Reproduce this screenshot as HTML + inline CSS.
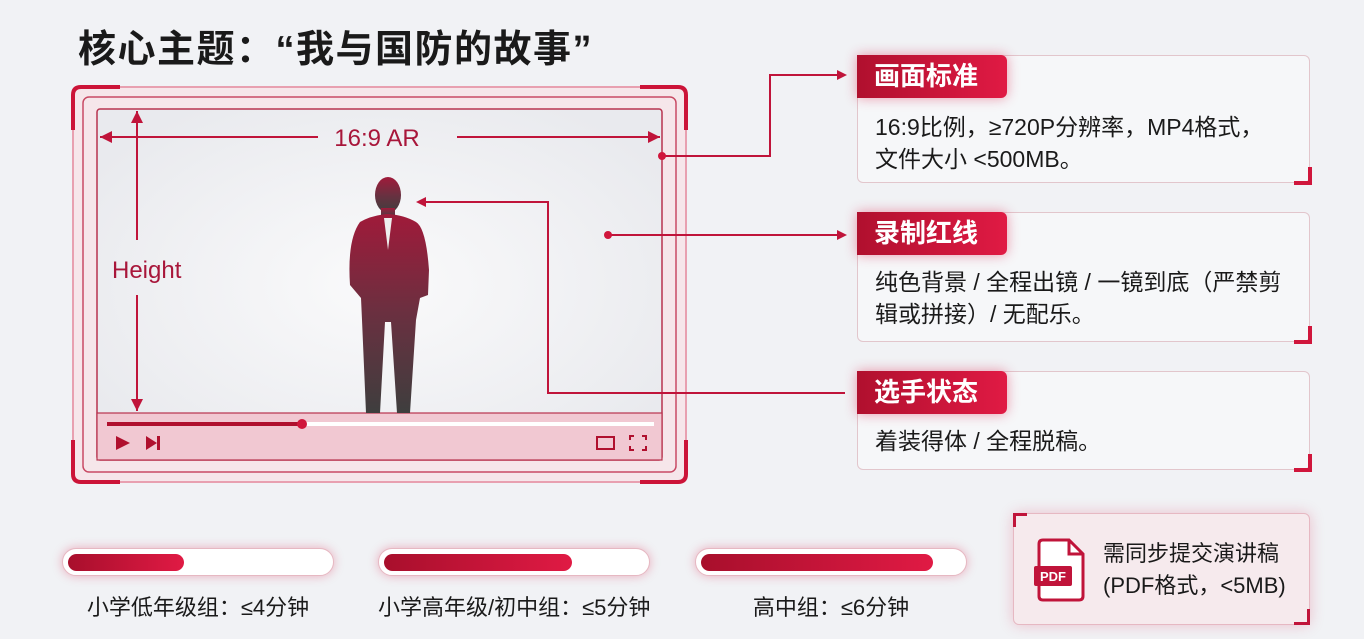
<!DOCTYPE html>
<html><head><meta charset="utf-8"><style>
*{margin:0;padding:0;box-sizing:border-box}
body{width:1364px;height:639px;background:#f1f2f5;position:relative;overflow:hidden;font-family:"Liberation Sans","Noto Sans CJK SC",sans-serif;color:#1a1a1a}
.a{position:absolute}
.lbl{position:absolute;left:857px;width:150px;height:43px;background:linear-gradient(90deg,#b0102e,#e01a44);color:#fff;font-size:26px;font-weight:bold;line-height:43px;padding-left:17px;border-radius:0 6px 6px 0;box-shadow:0 0 12px rgba(220,30,70,.45);white-space:nowrap}
.card{position:absolute;left:857px;width:453px;border:1px solid #e2c6cc;border-radius:6px;background:rgba(250,250,252,.6)}
.ct{position:absolute;left:875px;font-size:23px;line-height:32px;white-space:nowrap}
.corner{position:absolute;width:18px;height:18px;border-right:4px solid #d0163c;border-bottom:4px solid #d0163c}
.pill{position:absolute;top:548px;height:28px;width:272px;border-radius:14px;background:#fff;border:1px solid #e6b8c2;box-shadow:0 0 10px rgba(220,40,80,.35)}
.pill i{position:absolute;left:5px;top:5px;height:17px;border-radius:9px;background:linear-gradient(90deg,#a80f2c,#e01a44)}
.pt{position:absolute;top:590px;font-size:22px;text-align:center;white-space:nowrap}
</style></head><body>
<div class="a" style="left:78px;top:18px;font-size:38px;letter-spacing:1.5px;font-weight:bold;white-space:nowrap">核心主题：“我与国防的故事”</div>

<svg class="a" style="left:0;top:0" width="1364" height="639">
<defs><linearGradient id="sg" x1="0" y1="0" x2="0" y2="1"><stop offset="0" stop-color="#a01a3a"/><stop offset="0.5" stop-color="#6a3040"/><stop offset="1" stop-color="#3e3e3e"/></linearGradient>
<radialGradient id="bg" cx="0.5" cy="0.5" r="0.6"><stop offset="0" stop-color="#fafafb"/><stop offset="1" stop-color="#e9eaee"/></radialGradient>
<marker id="ar" markerWidth="10" markerHeight="10" refX="8" refY="5" orient="auto" markerUnits="userSpaceOnUse"><path d="M0,0 L10,5 L0,10z" fill="#c0143a"/></marker></defs>
<rect x="73" y="87" width="613" height="395" rx="10" fill="#f6e6ea" stroke="#e8a0b0" stroke-width="2"/>
<rect x="83" y="97" width="593" height="375" rx="6" fill="none" stroke="#c84a64" stroke-width="1.5"/>
<rect x="97" y="109" width="565" height="351" rx="3" fill="url(#bg)" stroke="#b8324e" stroke-width="1.5"/>
<rect x="97" y="413" width="565" height="47" fill="#f1c8d2" stroke="#b8324e" stroke-width="1.2"/>
<g stroke="#cc1438" stroke-width="4" fill="none">
<path d="M73,130 V95 Q73,87 81,87 H120"/><path d="M640,87 H678 Q686,87 686,95 V130"/>
<path d="M73,440 V474 Q73,482 81,482 H120"/><path d="M640,482 H678 Q686,482 686,474 V440"/></g>
<line x1="107" y1="424" x2="654" y2="424" stroke="#fff" stroke-width="4"/>
<line x1="107" y1="424" x2="302" y2="424" stroke="#b0102e" stroke-width="4"/>
<circle cx="302" cy="424" r="5" fill="#d0163c"/>
<path d="M116,436 L130,443 L116,450z" fill="#b0102e"/><path d="M146,436 L157,443 L146,450z M157,436 h3 v14 h-3z" fill="#b0102e"/>
<rect x="597" y="437" width="17" height="12" fill="none" stroke="#b0102e" stroke-width="2"/>
<path d="M630,440 v-4 h4 M642,436 h4 v4 M646,446 v4 h-4 M634,450 h-4 v-4" stroke="#b0102e" stroke-width="2" fill="none"/>
<line x1="100" y1="137" x2="318" y2="137" stroke="#c0143a" stroke-width="2"/>
<path d="M100,137 l12,-6 v12z M660,137 l-12,-6 v12z" fill="#c0143a"/>
<line x1="457" y1="137" x2="660" y2="137" stroke="#c0143a" stroke-width="2"/>
<line x1="137" y1="111" x2="137" y2="240" stroke="#c0143a" stroke-width="2"/>
<line x1="137" y1="295" x2="137" y2="411" stroke="#c0143a" stroke-width="2"/>
<path d="M137,111 l-6,12 h12z M137,411 l-6,-12 h12z" fill="#c0143a"/>
<text x="377" y="146" font-size="24" fill="#a8163a" text-anchor="middle" font-family="Liberation Sans">16:9 AR</text>
<text x="112" y="278" font-size="24" fill="#a8163a" font-family="Liberation Sans">Height</text>
<g fill="url(#sg)">
<ellipse cx="388" cy="195" rx="13" ry="18"/>
<path d="M381,208 h14 v10 h-14z"/>
<path d="M360,222 Q372,215 388,214 Q404,215 416,222 Q426,228 429,270 L428,295 L420,298 L416,320 L410,413 H397 L391,322 L385,322 L380,413 H366 L362,320 L361,298 L350,285 Q347,240 360,222z"/>
</g>
<path d="M384,218 L388,250 L392,218z" fill="#eee"/>
<g stroke="#c0143a" stroke-width="2" fill="none">
<polyline points="662,156 770,156 770,75 845,75" marker-end="url(#ar)"/>
<polyline points="608,235 845,235" marker-end="url(#ar)"/>
<polyline points="845,393 548,393 548,202 418,202" marker-end="url(#ar)"/>
</g>
<circle cx="662" cy="156" r="4" fill="#d0163c"/><circle cx="608" cy="235" r="4" fill="#d0163c"/>
</svg>

<div class="card" style="top:55px;height:128px"></div><div class="corner" style="left:1294px;top:167px"></div>
<div class="lbl" style="top:55px">画面标准</div>
<div class="ct" style="top:111px">16:9比例，≥720P分辨率，MP4格式，<br>文件大小 &lt;500MB。</div>
<div class="card" style="top:212px;height:130px"></div><div class="corner" style="left:1294px;top:326px"></div>
<div class="lbl" style="top:212px">录制红线</div>
<div class="ct" style="top:266px">纯色背景 / 全程出镜 / 一镜到底（严禁剪<br>辑或拼接）/ 无配乐。</div>
<div class="card" style="top:371px;height:99px"></div><div class="corner" style="left:1294px;top:454px"></div>
<div class="lbl" style="top:371px">选手状态</div>
<div class="ct" style="top:425px">着装得体 / 全程脱稿。</div>

<div class="pill" style="left:62px"><i style="width:116px"></i></div>
<div class="pill" style="left:378px"><i style="width:188px"></i></div>
<div class="pill" style="left:695px"><i style="width:232px"></i></div>
<div class="pt" style="left:62px;width:272px">小学低年级组：≤4分钟</div>
<div class="pt" style="left:378px;width:272px">小学高年级/初中组：≤5分钟</div>
<div class="pt" style="left:695px;width:272px">高中组：≤6分钟</div>

<div class="a" style="left:1013px;top:513px;width:297px;height:112px;border:1px solid #e6b8c2;border-radius:6px;background:#f6eaed;box-shadow:0 0 14px rgba(220,40,80,.25)"></div>
<div class="a" style="left:1013px;top:513px;width:14px;height:14px;border-left:3px solid #c0143a;border-top:3px solid #c0143a"></div>
<div class="a" style="left:1294px;top:609px;width:16px;height:16px;border-right:3px solid #c0143a;border-bottom:3px solid #c0143a"></div>
<svg class="a" style="left:1033px;top:538px" width="56" height="64">
<path d="M10,2 H36 L50,16 V58 Q50,62 46,62 H10 Q6,62 6,58 V6 Q6,2 10,2z" fill="#fff" stroke="#c0143a" stroke-width="3"/>
<path d="M36,2 V16 H50" fill="none" stroke="#c0143a" stroke-width="3"/>
<rect x="1" y="28" width="38" height="20" rx="2" fill="#c0143a"/>
<text x="20" y="43" font-size="13" font-weight="bold" fill="#fff" text-anchor="middle" font-family="Liberation Sans">PDF</text>
</svg>
<div class="a" style="left:1103px;top:538px;font-size:22px;line-height:32px;white-space:nowrap">需同步提交演讲稿<br>(PDF格式，&lt;5MB)</div>
</body></html>
